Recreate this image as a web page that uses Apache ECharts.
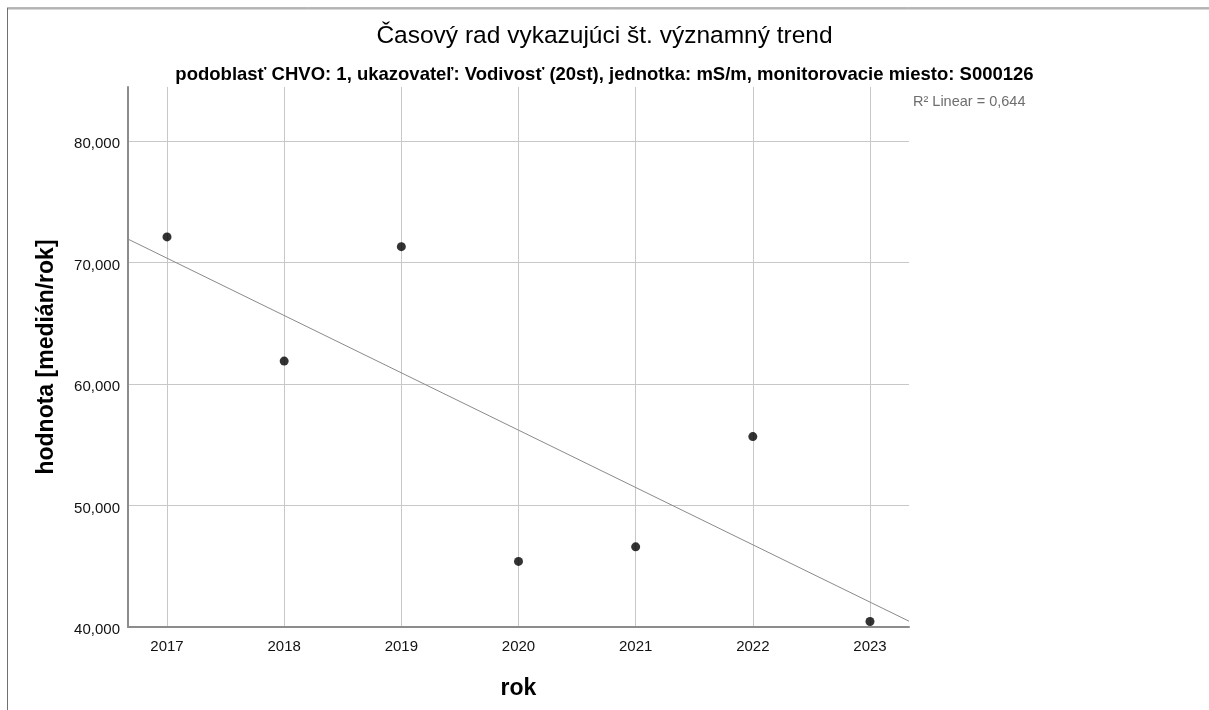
<!DOCTYPE html>
<html>
<head>
<meta charset="utf-8">
<script src="https://cdn.jsdelivr.net/npm/echarts@6/dist/echarts.min.js"></script>
<style>
html,body{margin:0;padding:0;background:#fff;}
#chart{width:1209px;height:710px;}
</style>
</head>
<body>
<div id="chart"></div>
<script>
// ---- data ----
const years = [2017, 2018, 2019, 2020, 2021, 2022, 2023];
const values = [72.115, 61.893, 71.317, 45.4, 46.6, 55.679, 40.45];
const yTicks = [40, 50, 60, 70, 80];
const xRange = [2016.667, 2023.333];
const yRange = [40, 84.46];
const titleText = 'Časový rad vykazujúci št. významný trend';
const subtitleText = 'podoblasť CHVO: 1, ukazovateľ: Vodivosť (20st), jednotka: mS/m, monitorovacie miesto: S000126';
const r2Text = 'R² Linear = 0,644';

// least-squares fit line from the data
const n = years.length;
const mx = years.reduce((a, b) => a + b, 0) / n;
const my = values.reduce((a, b) => a + b, 0) / n;
let sxy = 0, sxx = 0;
for (let i = 0; i < n; i++) { sxy += (years[i] - mx) * (values[i] - my); sxx += (years[i] - mx) ** 2; }
const slope = sxy / sxx;
const icpt = my - slope * mx;
const fitLine = xRange.map(x => [x, icpt + slope * x]);
const points = years.map((y, i) => [y, values[i]]);

const FONT = '"Liberation Sans", Arial, sans-serif';
const chart = echarts.init(document.getElementById('chart'), null, {renderer: 'canvas'});
chart.setOption({
  animation: false,
  backgroundColor: '#fff',
  title: [
    {text: titleText, left: 'center', top: 19, textStyle: {fontFamily: FONT, fontSize: 24.5, fontWeight: 'normal', color: '#000'}},
    {text: subtitleText, left: 'center', top: 60, textStyle: {fontFamily: FONT, fontSize: 18.5, fontWeight: 'bold', color: '#000'}}
  ],
  graphic: [
    {type: 'line', shape: {x1: 7, y1: 8, x2: 1209, y2: 8}, style: {stroke: '#707070', lineWidth: 1}, silent: true},
    {type: 'line', shape: {x1: 8, y1: 9, x2: 1209, y2: 9}, style: {stroke: '#b0b0b0', lineWidth: 1}, silent: true},
    {type: 'line', shape: {x1: 7.5, y1: 8, x2: 7.5, y2: 710}, style: {stroke: '#707070', lineWidth: 1}, silent: true},
    {type: 'text', left: 913, top: 94, style: {text: r2Text, fontFamily: FONT, fontSize: 14.5, fill: '#6e6e6e'}, silent: true}
  ],
  grid: {left: 128, right: 300, top: 87, bottom: 83, containLabel: false},
  xAxis: {
    type: 'value', min: xRange[0], max: xRange[1], splitNumber: 6,
    name: 'rok', nameLocation: 'middle', nameGap: 50,
    nameTextStyle: {fontFamily: FONT, fontSize: 23, fontWeight: 'bold', color: '#000'},
    axisLine: {show: true, onZero: false, lineStyle: {color: '#8c8c8c', width: 2}},
    axisTick: {show: false},
    axisLabel: {margin: 12, fontFamily: FONT, fontSize: 15, color: '#111',
      formatter: v => years.includes(Math.round(v)) && Math.abs(v - Math.round(v)) < 1e-6 ? String(Math.round(v)) : ''},
    splitLine: {show: true, showMinLine: false, showMaxLine: false, lineStyle: {color: '#c8c8c8', width: 1}}
  },
  yAxis: {
    type: 'value', min: yRange[0], max: yRange[1], interval: 10,
    name: 'hodnota [medián/rok]', nameLocation: 'middle', nameGap: 70, nameRotate: 90,
    nameTextStyle: {fontFamily: FONT, fontSize: 23, fontWeight: 'bold', color: '#000'},
    axisLine: {show: true, lineStyle: {color: '#8c8c8c', width: 2}},
    axisTick: {show: false},
    axisLabel: {margin: 8, fontFamily: FONT, fontSize: 15, color: '#111',
      rich: {v: {fontFamily: FONT, fontSize: 15, color: '#111', padding: [6, 0, 0, 0]}},
      formatter: v => yTicks.some(t => Math.abs(t - v) < 1e-6) ? '{v|' + v.toFixed(3).replace('.', ',') + '}' : ''},
    splitLine: {show: true, showMinLine: false, showMaxLine: false, lineStyle: {color: '#c8c8c8', width: 1}}
  },
  series: [
    {type: 'line', data: fitLine, symbol: 'none', silent: true, lineStyle: {color: '#8a8a8a', width: 1}, z: 3},
    {type: 'scatter', data: points, symbol: 'circle', symbolSize: 9, itemStyle: {color: '#000'}, z: 4}
  ]
});
</script>
</body>
</html>
